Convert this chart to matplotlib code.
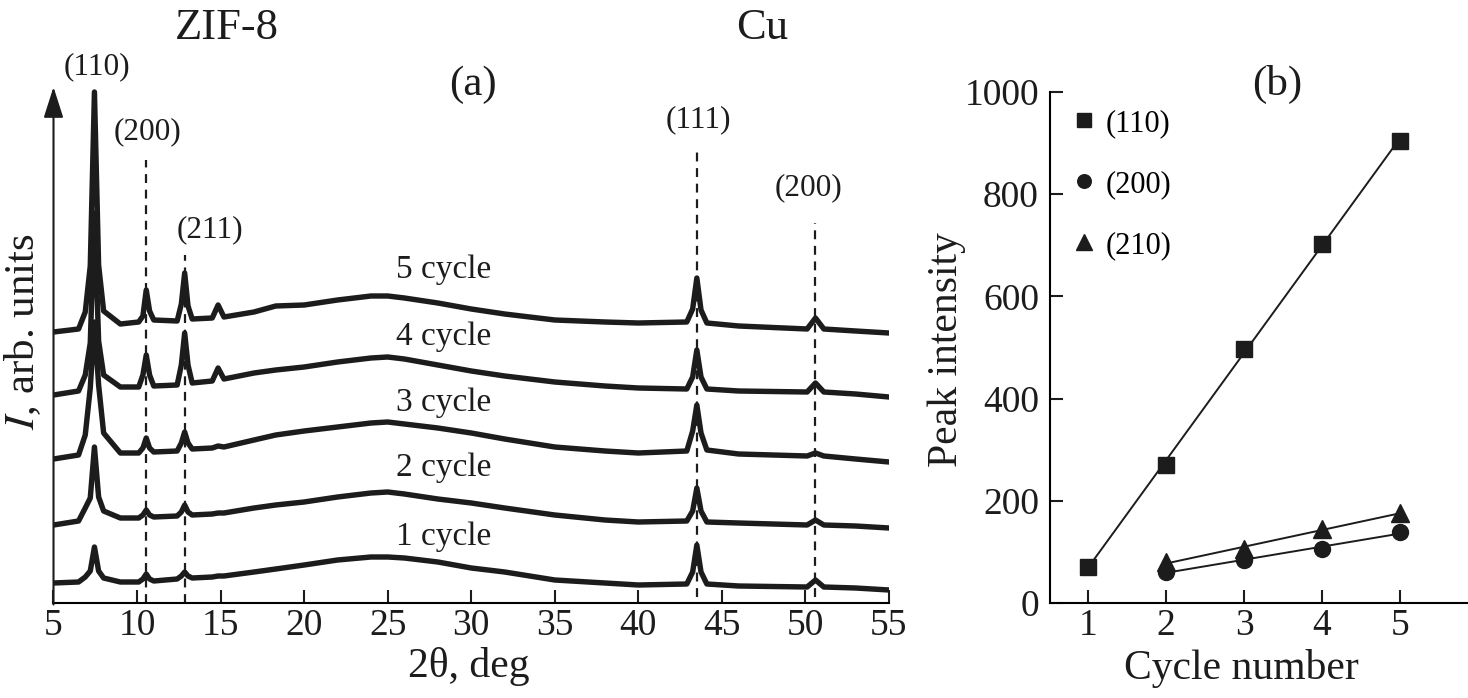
import matplotlib
matplotlib.use("Agg")
import matplotlib.pyplot as plt
import numpy as np

plt.rcParams['font.family'] = ['Liberation Serif', 'DejaVu Serif']
plt.rcParams['mathtext.fontset'] = 'stix'

# ---------------- Panel (a) data: XRD patterns (arb. units, offset traces) -------------
two_theta = [5.0, 6.5, 6.9, 7.2, 7.45, 7.7, 8.0, 9.0, 10.1, 10.35, 10.55, 10.75, 11.0,
             12.4, 12.65, 12.85, 13.05, 13.3, 14.5, 14.85, 15.2, 17.0, 18.3, 20.0, 22.0,
             24.0, 25.0, 26.0, 28.0, 30.0, 32.0, 35.0, 38.0, 40.0, 42.9, 43.25, 43.5,
             43.75, 44.1, 46.0, 50.1, 50.6, 51.1, 53.0, 55.0]

cycle5 = [271, 274, 291, 337, 511, 338, 292, 279, 281, 287, 313, 292, 283,
          282, 299, 330, 297, 284, 285, 298, 286, 291, 297, 298, 303,
          307, 307, 305, 300, 294, 289, 283, 281, 280, 281, 294, 325,
          293, 280, 277, 274, 285, 274, 272, 270]
cycle4 = [208, 212, 228, 260, 390, 262, 228, 216, 216, 228, 248, 228, 217,
          218, 238, 270, 238, 220, 222, 235, 224, 230, 233, 236, 241,
          245, 246, 244, 238, 232, 227, 221, 217, 215, 214, 226, 253,
          226, 214, 212, 211, 220, 211, 209, 206]
cycle3 = [144, 148, 168, 215, 281, 218, 170, 150, 150, 155, 165, 155, 151,
          152, 160, 171, 160, 154, 155, 157, 156, 163, 168, 172, 176,
          180, 181, 179, 175, 170, 164, 156, 152, 150, 152, 172, 198,
          170, 153, 149, 147, 150, 147, 144, 141]
cycle2 = [78, 82, 95, 105, 156, 106, 92, 85, 85, 88, 93, 88, 86,
          87, 91, 98, 91, 88, 89, 90, 90, 95, 98, 101, 106,
          110, 111, 109, 104, 100, 95, 88, 83, 81, 82, 92, 115,
          92, 81, 80, 78, 83, 78, 77, 75]
cycle1 = [20, 21, 26, 32, 56, 32, 25, 21, 21, 24, 29, 24, 22,
          24, 27, 31, 27, 25, 26, 27, 27, 31, 34, 38, 43,
          46, 46, 45, 41, 35, 31, 23, 20, 18, 19, 31, 58,
          31, 19, 17, 16, 23, 16, 15, 13]
traces = [cycle1, cycle2, cycle3, cycle4, cycle5]
cycle_labels = ["1 cycle", "2 cycle", "3 cycle", "4 cycle", "5 cycle"]
cycle_label_y = [66, 135, 200, 266, 333]

# reflection markers (dashed lines)
ref_pos = [10.55, 12.85, 43.53, 50.57]
ref_top = [443, 348, 451, 380]
ref_bottom = [0, 0, 6, 6]

# ---------------- Panel (b) data: peak intensities ----------------
cyc110 = [1, 2, 3, 4, 5]
int110 = [70, 271, 498, 703, 905]
cyc200 = [2, 3, 4, 5]
int200 = [61, 84, 106, 139]
cyc210 = [2, 3, 4, 5]
int210 = [80, 105, 145, 176]

W, H = 1468, 698
fig = plt.figure(figsize=(W / 100, H / 100), dpi=100)
axa = fig.add_axes([53.5 / W, 95 / H, 835.5 / W, 516 / H])
axb = fig.add_axes([1050 / W, 95 / H, 418 / W, 511 / H])

ink = '#1c1c1c'

# ----- (a)
for xp, yt, yb in zip(ref_pos, ref_top, ref_bottom):
    axa.plot([xp, xp], [yb, yt], color=ink, lw=1.6, ls=(0, (4, 3)), zorder=1)
for tr in traces:
    axa.plot(two_theta, tr, color=ink, lw=3.9, solid_joinstyle='round', zorder=2)

axa.set_xlim(5, 55)
axa.set_ylim(0, 516)
axa.set_xticks(range(5, 56, 5))
axa.set_yticks([])
for s in ['top', 'right', 'left']:
    axa.spines[s].set_visible(False)
axa.spines['bottom'].set_linewidth(1.5)
axa.tick_params(axis='x', direction='in', length=9.5, width=1.5, labelsize=27, pad=4, colors=ink)
axa.annotate('', xy=(0, 1.0), xycoords='axes fraction', xytext=(0, -0.003),
             arrowprops=dict(arrowstyle='-|>,head_length=0.5,head_width=0.16',
                             mutation_scale=38, lw=1.5, color=ink, shrinkA=0, shrinkB=0))

axa.set_xlabel('2θ, deg', fontsize=30, color=ink)
axa.xaxis.set_label_coords(0.497, -0.085)
axa.set_ylabel('$I$, arb. units', fontsize=31, color=ink)
axa.yaxis.set_label_coords(-0.013, 0.525)

for lab, yy in zip(cycle_labels, cycle_label_y):
    axa.text(28.37, yy, lab, fontsize=24, ha='center', va='center', color=ink)

axa.text(15.38, 575, 'ZIF-8', fontsize=32, ha='center', va='center', color=ink, clip_on=False)
axa.text(47.4, 575, 'Cu', fontsize=32, ha='center', va='center', color=ink, clip_on=False)
axa.text(7.6, 536, '(110)', fontsize=22.5, ha='center', va='center', color=ink, clip_on=False)
axa.text(10.65, 471, '(200)', fontsize=22.5, ha='center', va='center', color=ink)
axa.text(14.37, 373, '(211)', fontsize=22.5, ha='center', va='center', color=ink)
axa.text(43.62, 483, '(111)', fontsize=22.5, ha='center', va='center', color=ink)
axa.text(50.2, 415, '(200)', fontsize=22.5, ha='center', va='center', color=ink)
axa.text(30.1, 518, '(a)', fontsize=31, ha='center', va='center', color=ink, clip_on=False)

# ----- (b)
for cx, iy in [(cyc110, int110), (cyc200, int200), (cyc210, int210)]:
    k, b = np.polyfit(cx, iy, 1)
    xs = np.array([min(cx), max(cx)])
    axb.plot(xs, k * xs + b, color=ink, lw=1.4, zorder=2)
h110, = axb.plot(cyc110, int110, ls='none', marker='s', ms=11.5, color=ink, zorder=3, label='(110)')
h200, = axb.plot(cyc200, int200, ls='none', marker='o', ms=11.5, color=ink, zorder=3, label='(200)')
h210, = axb.plot(cyc210, int210, ls='none', marker='^', ms=13, color=ink, zorder=3, label='(210)')

axb.set_xlim(0.513, 5.87)
axb.set_ylim(0, 1000)
axb.set_xticks([1, 2, 3, 4, 5])
axb.set_yticks([0, 200, 400, 600, 800, 1000])
for s in ['top', 'right']:
    axb.spines[s].set_visible(False)
for s in ['left', 'bottom']:
    axb.spines[s].set_linewidth(1.5)
axb.tick_params(axis='x', direction='in', length=9.5, width=1.5, labelsize=27, pad=4, colors=ink)
axb.tick_params(axis='y', direction='in', length=9.5, width=1.5, labelsize=27, pad=8, colors=ink)
axb.set_xlabel('Cycle number', fontsize=30, color=ink)
axb.xaxis.set_label_coords(0.459, -0.09)
axb.set_ylabel('Peak intensity', fontsize=30, color=ink)
axb.yaxis.set_label_coords(-0.2, 0.495)
axb.text(3.42, 1014, '(b)', fontsize=31, ha='center', va='center', color=ink, clip_on=False)

axb.legend(handles=[h110, h200, h210], loc='upper left', bbox_to_anchor=(0.045, 0.967),
           frameon=False, fontsize=22, handlelength=1.0, handletextpad=0.2,
           labelspacing=1.05, borderpad=0, borderaxespad=0, markerscale=0.85)

fig.savefig('out.png', dpi=100)
